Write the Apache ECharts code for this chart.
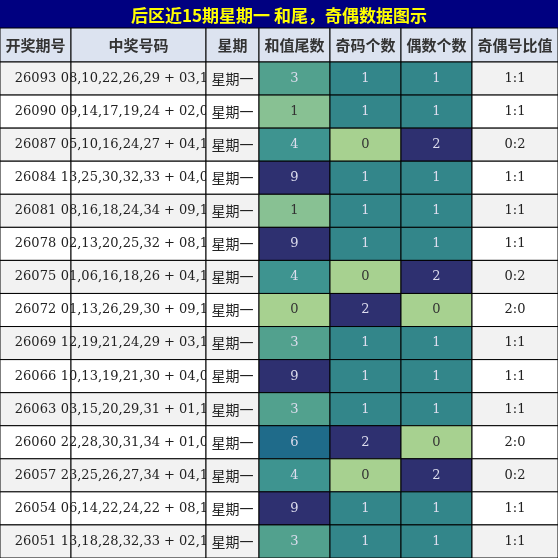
<!DOCTYPE html>
<html><head><meta charset="utf-8">
<script src="https://cdn.jsdelivr.net/npm/echarts@6/dist/echarts.min.js"></script>
<style>html,body{margin:0;padding:0;background:#fff}#c{width:558px;height:558px}</style>
</head><body><div id="c"></div>
<script>
var titleText = '后区近15期星期一 和尾，奇偶数据图示';
var headers = ['开奖期号','中奖号码','星期','和值尾数','奇码个数','偶数个数','奇偶号比值'];
var issues = ['26093','26090','26087','26084','26081','26078','26075','26072','26069','26066','26063','26060','26057','26054','26051'];
var numbers = ['08,10,22,26,29 + 03,10','09,14,17,19,24 + 02,09','05,10,16,24,27 + 04,10','13,25,30,32,33 + 04,05','08,16,18,24,34 + 09,12','02,13,20,25,32 + 08,11','01,06,16,18,26 + 04,10','01,13,26,29,30 + 09,11','12,19,21,24,29 + 03,10','10,13,19,21,30 + 04,05','03,15,20,29,31 + 01,12','22,28,30,31,34 + 01,05','23,25,26,27,34 + 04,10','06,14,22,24,22 + 08,11','13,18,28,32,33 + 02,11'];
var weekday = '星期一';
var sumTail = [3,1,4,9,1,9,4,0,3,9,3,6,4,9,3];
var oddCount = [1,1,0,1,1,1,0,2,1,1,1,2,0,1,1];
var evenCount = [1,1,2,1,1,1,2,0,1,1,1,0,2,1,1];

// layout
var colEdges = [0,71,206,259,330,401,472,558];
var titleH = 28, headH = 34, rowH = (558 - titleH - headH) / 15;
var tailColors = {0:'#a7d190',1:'#88c193',3:'#52a18e',4:'#3e9490',6:'#1f6b8a',9:'#2e3070'};
var cntColors = {0:'#a7d190',1:'#33868a',2:'#2e3070'};

var cells = [];
headers.forEach(function(h,c){ cells.push([c,-1,h]); });
for (var r=0;r<issues.length;r++){
  var ratio = oddCount[r]+':'+evenCount[r];
  [issues[r],numbers[r],weekday,sumTail[r],oddCount[r],evenCount[r],ratio].forEach(function(v,c){ cells.push([c,r,v]); });
}

function cellStyle(c,r,v){
  if (r<0) return {fill:'#dce3f0',color:'#333',font:'bold 15px "Noto Sans CJK SC"'};
  var base = r%2===0 ? '#f2f2f2' : '#ffffff';
  var f = c===2 ? '14px "Noto Sans CJK SC"' : '13px "DejaVu Serif"';
  if (c===3 || c===4 || c===5){
    var col = c===3 ? tailColors[v] : cntColors[v];
    var light = col==='#a7d190' || col==='#88c193';
    return {fill:col,color:light?'#333':'#dde',font:f};
  }
  return {fill:base,color:'#222',font:f};
}

var chart = echarts.init(document.getElementById('c'));
chart.setOption({
  animation:false,
  title:{text:titleText,left:'center',top:2,textStyle:{color:'#ffff00',fontSize:17,fontWeight:'bold',fontFamily:'Noto Sans CJK SC'}},
  graphic:[{type:'rect',z:-1,shape:{x:0,y:0,width:558,height:titleH},style:{fill:'#000080'}}],
  xAxis:{show:false,min:0,max:1},yAxis:{show:false,min:0,max:1},
  grid:{left:0,right:0,top:0,bottom:0},
  series:[{
    type:'custom',data:cells,coordinateSystem:'none',
    renderItem:function(params,api){
      var c=api.value(0), r=api.value(1), v=cells[params.dataIndex][2];
      var x=colEdges[c], w=colEdges[c+1]-colEdges[c];
      var y = r<0 ? titleH : titleH+headH+r*rowH, h = r<0 ? headH : rowH;
      var s=cellStyle(c,r,v);
      return {type:'group',children:[
        {type:'rect',shape:{x:x,y:y,width:w,height:h},style:{fill:s.fill,stroke:'#000',lineWidth:1}},
        {type:'text',style:{x:x+w/2,y:y+h/2,text:String(v),align:'center',verticalAlign:'middle',fill:s.color,font:s.font}}
      ]};
    }
  }]
});
</script></body></html>
